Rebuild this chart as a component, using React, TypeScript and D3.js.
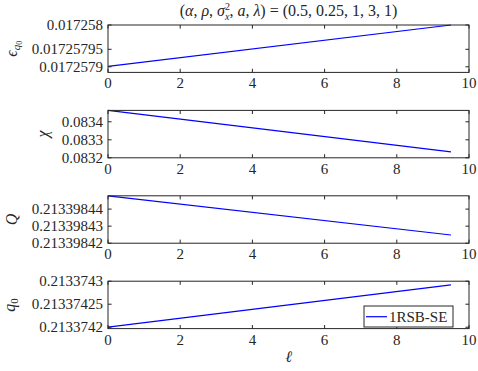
import * as React from 'react';
import * as d3 from 'd3';

const ell = [0, 9.5];
const xTicks = [0, 2, 4, 6, 8, 10];

const epsQ0 = [0.017257915, 0.017258];
const epsDomain = [0.0172579025, 0.017258];
const epsTicks = [0.017257914, 0.01725795, 0.017258];
const epsTickLabels = ['0.0172579', '0.01725795', '0.017258'];

const chi = [0.0834633, 0.0832333];
const chiDomain = [0.0832, 0.0834633];
const chiTicks = [0.0832, 0.0833, 0.0834];
const chiTickLabels = ['0.0832', '0.0833', '0.0834'];

const Qvals = [0.2133984478, 0.2133984248];
const QDomain = [0.21339842, 0.2133984478];
const QTicks = [0.21339842, 0.21339843, 0.21339844];
const QTickLabels = ['0.21339842', '0.21339843', '0.21339844'];

const q0 = [0.2133742, 0.213374292];
const q0Domain = [0.213374197, 0.2133743];
const q0Ticks = [0.2133742, 0.21337425, 0.2133743];
const q0TickLabels = ['0.2133742', '0.21337425', '0.2133743'];

const legendLabel = '1RSB-SE';

const FONT = '"Liberation Serif", "Times New Roman", serif';

export default function App() {
  const ref = React.useRef<SVGSVGElement>(null);

  React.useEffect(() => {
    const width = 478;
    const height = 371;
    const left = 108;
    const right = 469;
    const top0 = 25;
    const panelH = 47.4;
    const step = 85.4;
    const axisColor = '#262626';
    const tickLen = 3.6;

    const svg = d3.select(ref.current).attr('width', width).attr('height', height);
    svg.selectAll('*').remove();
    svg.append('rect').attr('width', width).attr('height', height).attr('fill', '#fff');

    const x = d3.scaleLinear().domain([0, 10]).range([left, right]);

    const panels = [
      {values: epsQ0, domain: epsDomain, ticks: epsTicks, labels: epsTickLabels, yl: 'eps', ylx: 17},
      {values: chi, domain: chiDomain, ticks: chiTicks, labels: chiTickLabels, yl: 'chi', ylx: 48},
      {values: Qvals, domain: QDomain, ticks: QTicks, labels: QTickLabels, yl: 'Q', ylx: 17},
      {values: q0, domain: q0Domain, ticks: q0Ticks, labels: q0TickLabels, yl: 'q0', ylx: 15},
    ];

    panels.forEach((p, i) => {
      const top = top0 + i * step;
      const bottom = top + panelH;
      const y = d3.scaleLinear().domain(p.domain).range([bottom, top]);
      const g = svg.append('g');

      // data line
      const line = d3.line<number>().x((d, j) => x(ell[j])).y(d => y(d));
      g.append('path')
        .datum(p.values)
        .attr('d', line)
        .attr('fill', 'none')
        .attr('stroke', '#0000ff')
        .attr('stroke-width', 1.2);

      // box
      g.append('rect')
        .attr('x', left).attr('y', top)
        .attr('width', right - left).attr('height', panelH)
        .attr('fill', 'none').attr('stroke', axisColor).attr('stroke-width', 1);

      // x ticks (inward, bottom and top)
      g.selectAll('.xt').data(xTicks).enter().append('path')
        .attr('d', d => `M${x(d)},${bottom}v${-tickLen}M${x(d)},${top}v${tickLen}`)
        .attr('stroke', axisColor);
      g.selectAll('.xl').data(xTicks).enter().append('text')
        .attr('x', d => x(d))
        .attr('y', bottom + 16)
        .attr('text-anchor', 'middle')
        .attr('font-family', FONT)
        .attr('font-size', 15)
        .attr('fill', axisColor)
        .text(d => d);

      // y ticks (inward, left and right)
      g.selectAll('.yt').data(p.ticks).enter().append('path')
        .attr('d', d => `M${left},${y(d)}h${tickLen}M${right},${y(d)}h${-tickLen}`)
        .attr('stroke', axisColor);
      g.selectAll('.yl').data(p.ticks).enter().append('text')
        .attr('x', left - 5)
        .attr('y', d => y(d))
        .attr('dy', '0.33em')
        .attr('text-anchor', 'end')
        .attr('font-family', FONT)
        .attr('font-size', 15)
        .attr('fill', axisColor)
        .text((d, j) => p.labels[j]);

      // y label
      const yl = svg.append('text')
        .attr('transform', `translate(${p.ylx},${(top + bottom) / 2}) rotate(-90)`)
        .attr('text-anchor', 'middle')
        .attr('font-family', FONT)
        .attr('font-size', 16)
        .attr('fill', axisColor);
      if (p.yl === 'eps') {
        yl.append('tspan').attr('font-style', 'italic').text('\u03f5');
        yl.append('tspan').attr('font-style', 'italic').attr('font-size', 11).attr('dy', 3).text('q');
        yl.append('tspan').attr('font-size', 8).attr('dy', 2).text('0');
      } else if (p.yl === 'chi') {
        yl.append('tspan').attr('font-style', 'italic').text('\u03c7');
      } else if (p.yl === 'Q') {
        yl.append('tspan').attr('font-style', 'italic').text('Q');
      } else {
        yl.append('tspan').attr('font-style', 'italic').text('q');
        yl.append('tspan').attr('font-size', 11).attr('dy', 3).text('0');
      }

      // legend in last panel
      if (i === panels.length - 1) {
        const lg = svg.append('g');
        lg.append('rect')
          .attr('x', 364).attr('y', 306).attr('width', 89).attr('height', 21)
          .attr('fill', '#fff').attr('stroke', axisColor).attr('stroke-width', 1);
        lg.append('line')
          .attr('x1', 366).attr('x2', 387).attr('y1', 316.7).attr('y2', 316.7)
          .attr('stroke', '#0000ff').attr('stroke-width', 1.2);
        lg.append('text')
          .attr('x', 389).attr('y', 321.5)
          .attr('font-family', FONT).attr('font-size', 15).attr('fill', axisColor)
          .text(legendLabel);
      }
    });

    // x label
    svg.append('text')
      .attr('x', (left + right) / 2).attr('y', 362)
      .attr('text-anchor', 'middle')
      .attr('font-family', FONT).attr('font-size', 16).attr('font-style', 'italic')
      .attr('fill', axisColor)
      .text('\u2113');

    // title
    const t = svg.append('text')
      .attr('x', (left + right) / 2).attr('y', 16)
      .attr('text-anchor', 'middle')
      .attr('font-family', FONT).attr('font-size', 16)
      .attr('fill', axisColor);
    t.append('tspan').text('(');
    t.append('tspan').attr('font-style', 'italic').text('\u03b1');
    t.append('tspan').text(', ');
    t.append('tspan').attr('font-style', 'italic').text('\u03c1');
    t.append('tspan').text(', ');
    t.append('tspan').attr('font-style', 'italic').text('\u03c3');
    t.append('tspan').attr('font-size', 10).attr('dy', -6).text('2');
    t.append('tspan').attr('font-size', 10).attr('font-style', 'italic').attr('dx', -5).attr('dy', 10).text('x');
    t.append('tspan').attr('dy', -4).text(', ');
    t.append('tspan').attr('font-style', 'italic').text('a');
    t.append('tspan').text(', ');
    t.append('tspan').attr('font-style', 'italic').text('\u03bb');
    t.append('tspan').text(') = (0.5, 0.25, 1, 3, 1)');
  }, []);

  return (
    <svg ref={ref} style={{position: 'absolute', left: 0, top: 0}}></svg>
  );
}
